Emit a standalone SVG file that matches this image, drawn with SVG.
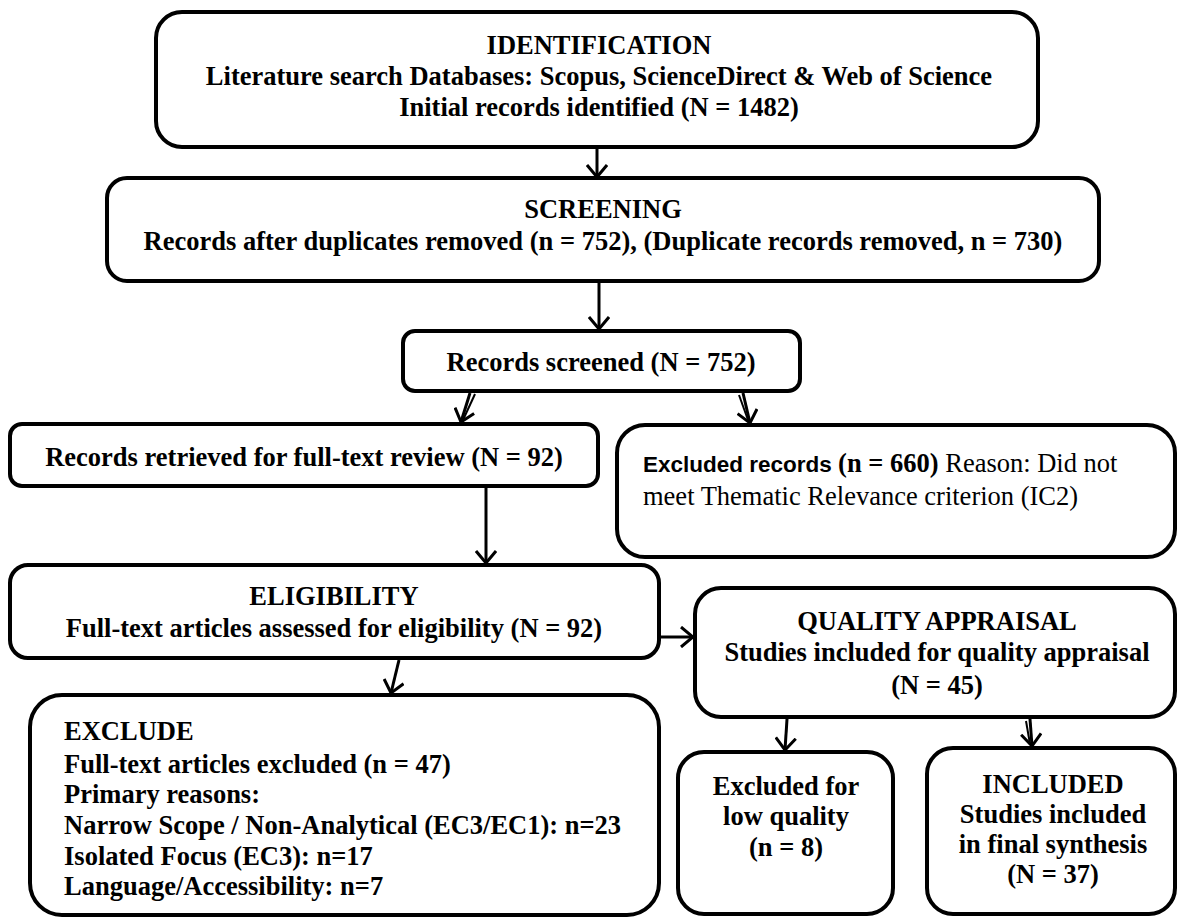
<svg xmlns="http://www.w3.org/2000/svg" width="1178" height="918" viewBox="0 0 1178 918">
<style>
.box{fill:#fff;stroke:#000;stroke-width:4}
.t{font-family:"Liberation Serif","Times New Roman",serif;font-weight:bold;font-size:26.5px;fill:#000}
.c{text-anchor:middle}
.r{font-weight:normal}
.s{font-family:"Liberation Sans",Arial,sans-serif;font-weight:bold;font-size:22.5px}
.con{stroke:#000;stroke-width:3;fill:none}
.con2{stroke:#000;stroke-width:2;fill:none}
</style>
<defs>
<marker id="ah" viewBox="0 0 14 22" refX="13" refY="11" markerWidth="14" markerHeight="22" markerUnits="userSpaceOnUse" orient="auto">
<path d="M1,1 L13,11 L1,21" fill="none" stroke="#000" stroke-width="3"/>
</marker>
</defs>
<rect width="1178" height="918" fill="#fff"/>
<g id="identification">
<rect class="box" x="156" y="12" width="882" height="135" rx="26"/>
<text class="t c" x="599" y="54">IDENTIFICATION</text>
<text class="t c" x="599" y="85">Literature search Databases: Scopus, ScienceDirect &amp; Web of Science</text>
<text class="t c" x="599" y="116">Initial records identified (N = 1482)</text>
</g>
<g id="screening">
<rect class="box" x="107" y="178" width="992" height="103" rx="20"/>
<text class="t c" x="603" y="218">SCREENING</text>
<text class="t c" x="603" y="250">Records after duplicates removed (n = 752), (Duplicate records removed, n = 730)</text>
</g>
<g id="records-screened">
<rect class="box" x="403" y="331" width="397" height="60" rx="12"/>
<text class="t c" x="601" y="371">Records screened (N = 752)</text>
</g>
<g id="records-retrieved">
<rect class="box" x="10" y="424" width="588" height="62" rx="12"/>
<text class="t c" x="304" y="466">Records retrieved for full-text review (N = 92)</text>
</g>
<g id="excluded-records">
<rect class="box" x="617" y="425" width="558" height="132" rx="28"/>
<text class="t" x="643" y="472"><tspan class="s">Excluded records </tspan>(n = 660)<tspan class="r"> Reason: Did not</tspan></text>
<text class="t r" x="643" y="505">meet Thematic Relevance criterion (IC2)</text>
</g>
<g id="eligibility">
<rect class="box" x="10" y="565" width="649" height="93" rx="18"/>
<text class="t c" x="334" y="605">ELIGIBILITY</text>
<text class="t c" x="334" y="637">Full-text articles assessed for eligibility (N = 92)</text>
</g>
<g id="quality-appraisal">
<rect class="box" x="695" y="588" width="480" height="129" rx="26"/>
<text class="t c" x="937" y="630">QUALITY APPRAISAL</text>
<text class="t c" x="937" y="661">Studies included for quality appraisal</text>
<text class="t c" x="937" y="694">(N = 45)</text>
</g>
<g id="exclude">
<rect class="box" x="30" y="695" width="629" height="220" rx="32"/>
<text class="t" x="64" y="740">EXCLUDE</text>
<text class="t" x="64" y="773">Full-text articles excluded (n = 47)</text>
<text class="t" x="64" y="803">Primary reasons:</text>
<text class="t" x="64" y="834">Narrow Scope / Non-Analytical (EC3/EC1): n=23</text>
<text class="t" x="64" y="865">Isolated Focus (EC3): n=17</text>
<text class="t" x="64" y="895">Language/Accessibility: n=7</text>
</g>
<g id="excluded-low-quality">
<rect class="box" x="678" y="752" width="215" height="162" rx="26"/>
<text class="t c" x="786" y="795">Excluded for</text>
<text class="t c" x="786" y="825">low quality</text>
<text class="t c" x="786" y="856">(n = 8)</text>
</g>
<g id="included">
<rect class="box" x="927" y="748" width="248" height="166" rx="26"/>
<text class="t c" x="1053" y="793">INCLUDED</text>
<text class="t c" x="1053" y="823">Studies included</text>
<text class="t c" x="1053" y="853">in final synthesis</text>
<text class="t c" x="1053" y="883">(N = 37)</text>
</g>
<g id="connectors">
<path class="con" d="M597,149 L597,177" marker-end="url(#ah)"/>
<path class="con" d="M599,283 L599,329" marker-end="url(#ah)"/>
<path class="con" d="M470,393 L461,422" marker-end="url(#ah)"/>
<path class="con2" d="M475,394 L463,420"/>
<path class="con" d="M743,393 L750,423" marker-end="url(#ah)"/>
<path class="con2" d="M739,395 L748,420"/>
<path class="con" d="M486,488 L486,563" marker-end="url(#ah)"/>
<path class="con" d="M661,637 L693,637" marker-end="url(#ah)"/>
<path class="con" d="M399,660 L391,693" marker-end="url(#ah)"/>
<path class="con" d="M787,719 L785,750" marker-end="url(#ah)"/>
<path class="con" d="M1030,719 L1032,746" marker-end="url(#ah)"/>
<path class="con2" d="M1026,721 L1030,744"/>
</g>
</svg>
